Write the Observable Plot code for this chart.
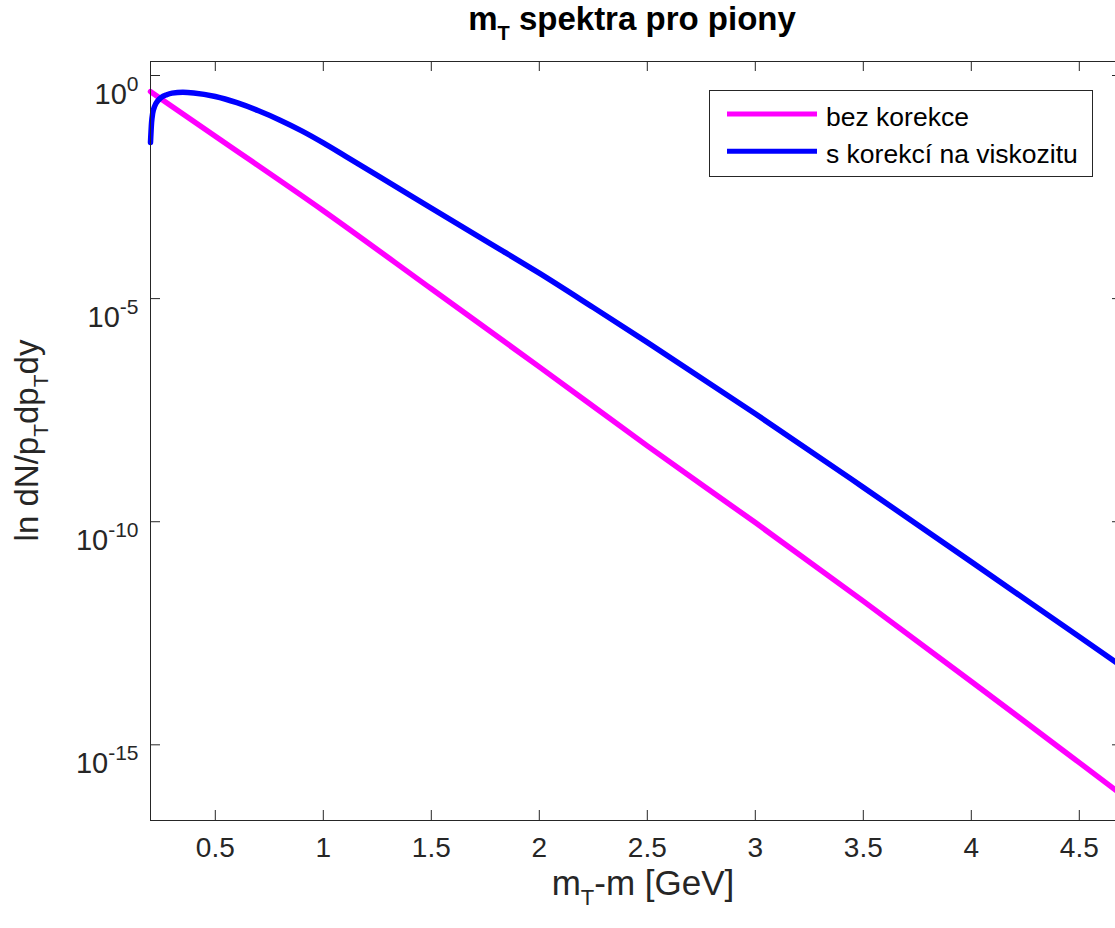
<!DOCTYPE html>
<html>
<head>
<meta charset="utf-8">
<script src="https://cdn.jsdelivr.net/npm/d3@7"></script>
<script src="https://cdn.jsdelivr.net/npm/@observablehq/plot@0.6"></script>
<style>
  html, body { margin: 0; padding: 0; background: #fff; overflow: hidden; }
  #wrap { width: 1115px; height: 928px; overflow: hidden; position: relative; }
  #wrap svg { max-width: none !important; display: block; }
</style>
</head>
<body>
<div id="wrap"></div>
<script>
// ---- data ----
const xTicks = [0.5, 1, 1.5, 2, 2.5, 3, 3.5, 4, 4.5];
const xTickLabels = ["0.5", "1", "1.5", "2", "2.5", "3", "3.5", "4", "4.5"];
const yTickExponents = [0, -5, -10, -15];

const seriesNames = ["bez korekce", "s korekcí na viskozitu"];
const seriesColors = ["#ff00ff", "#0000ff"];

// series 1: bez korekce  (log10 of dN/pT dpT dy)
const xNoCorr  = [0.2, 0.5, 1.0, 1.5, 2.0, 2.5, 3.0, 3.5, 4.0, 4.5, 4.7];
const lgNoCorr = [-0.36, -1.36, -3.03, -4.78, -6.53, -8.30, -10.02, -11.78, -13.58, -15.40, -16.13];

// series 2: s korekcí na viskozitu (log10)
const xVisc  = [0.2, 0.205, 0.21, 0.22, 0.235, 0.25, 0.275, 0.3, 0.35, 0.4, 0.5, 0.6, 0.7, 0.8, 0.9, 1.0, 1.1, 1.25, 1.5, 1.75, 2.0, 2.25, 2.5, 3.0, 3.5, 4.0, 4.5, 4.7];
const lgVisc = [-1.50, -1.05, -0.85, -0.68, -0.56, -0.49, -0.43, -0.395, -0.375, -0.39, -0.47, -0.61, -0.79, -1.00, -1.24, -1.51, -1.80, -2.24, -2.97, -3.70, -4.43, -5.20, -5.98, -7.58, -9.23, -10.90, -12.58, -13.25];

const xDomain = [0.2, 4.7];
const yDomainExp = [-16.696, 0.314];

// ---- build tables ----
const noCorr = xNoCorr.map((x, i) => ({x, y: Math.pow(10, lgNoCorr[i]), s: seriesNames[0]}));
const visc = xVisc.map((x, i) => ({x, y: Math.pow(10, lgVisc[i]), s: seriesNames[1]}));
const yTicks = yTickExponents.map(e => Math.pow(10, e));

const W = 1130, H = 928;
const mL = 150, mR = 8, mT = 61, mB = 108;
const frameW = W - mL - mR, frameH = H - mT - mB;
const axisColor = "#262626";
const font = "'Liberation Sans', Arial, Helvetica, sans-serif";

const chart = Plot.plot({
  width: W, height: H,
  marginLeft: mL, marginRight: mR, marginTop: mT, marginBottom: mB,
  style: {fontFamily: font, background: "#fff", color: axisColor, maxWidth: "none"},
  x: {domain: xDomain, axis: null},
  y: {type: "log", domain: yDomainExp.map(e => Math.pow(10, e)), axis: null},
  marks: [
    Plot.line(noCorr, {x: "x", y: "y", stroke: seriesColors[0], strokeWidth: 5.5, curve: "monotone-x"}),
    Plot.line(visc, {x: "x", y: "y", stroke: seriesColors[1], strokeWidth: 5.5, curve: "monotone-x"}),
    Plot.frame({stroke: axisColor, strokeWidth: 1}),
    Plot.tickX(xTicks, {x: d => d, insetTop: frameH - 10, stroke: axisColor}),
    Plot.tickX(xTicks, {x: d => d, insetBottom: frameH - 10, stroke: axisColor}),
    Plot.tickY(yTicks, {y: d => d, insetRight: frameW - 10, stroke: axisColor}),
    Plot.tickY(yTicks, {y: d => d, insetLeft: frameW - 10, stroke: axisColor}),
    Plot.text(xTicks, {x: d => d, frameAnchor: "bottom", text: (d, i) => xTickLabels[i],
      dy: 36, fontSize: 28, fill: axisColor, textAnchor: "middle"}),
    Plot.text(yTicks, {y: d => d, frameAnchor: "left", text: (d, i) => "§" + yTickExponents[i],
      dx: -12, fontSize: 29, fill: axisColor, textAnchor: "end"})
  ]
});

chart.style.maxWidth = "none";
document.getElementById("wrap").appendChild(chart);
const svg = d3.select(chart);

// superscript y tick labels: 10^e
svg.selectAll("text").filter(function() { return this.textContent.startsWith("§"); }).each(function() {
  const e = this.textContent.slice(1);
  const t = d3.select(this);
  t.text(null).attr("dy", 19);
  t.append("tspan").text("10");
  t.append("tspan").attr("dy", -13).attr("font-size", 21).text(e);
});

// title
const title = svg.append("text")
  .attr("x", mL + frameW / 2 - 4).attr("y", 30)
  .attr("text-anchor", "middle")
  .attr("font-family", font).attr("font-weight", "bold").attr("font-size", 33).attr("fill", "#000");
title.append("tspan").text("m");
title.append("tspan").attr("dy", 10).attr("font-size", 20).text("T");
title.append("tspan").attr("dy", -10).text(" spektra pro piony");

// x label
const xl = svg.append("text")
  .attr("x", mL + frameW / 2 + 7).attr("y", 895)
  .attr("text-anchor", "middle")
  .attr("font-family", font).attr("font-size", 35).attr("fill", axisColor);
xl.append("tspan").text("m");
xl.append("tspan").attr("dy", 10).attr("font-size", 22).text("T");
xl.append("tspan").attr("dy", -10).text("-m [GeV]");

// y label
const yl = svg.append("text")
  .attr("transform", `translate(38,${mT + frameH / 2}) rotate(-90)`)
  .attr("text-anchor", "middle")
  .attr("font-family", font).attr("font-size", 33).attr("fill", axisColor);
yl.append("tspan").text("ln dN/p");
yl.append("tspan").attr("dy", 10).attr("font-size", 21).text("T");
yl.append("tspan").attr("dy", -10).text("dp");
yl.append("tspan").attr("dy", 10).attr("font-size", 21).text("T");
yl.append("tspan").attr("dy", -10).text("dy");

// legend
const lg = svg.append("g");
lg.append("rect").attr("x", 709.5).attr("y", 90.5).attr("width", 383).attr("height", 86)
  .attr("fill", "#fff").attr("stroke", axisColor).attr("stroke-width", 1);
seriesNames.forEach((name, i) => {
  const yy = 114 + i * 37.3;
  lg.append("line").attr("x1", 727).attr("x2", 817).attr("y1", yy).attr("y2", yy)
    .attr("stroke", seriesColors[i]).attr("stroke-width", 5);
  lg.append("text").attr("x", 826).attr("y", yy + 11.7).attr("text-anchor", "start")
    .attr("font-family", font).attr("font-size", 26.5).attr("fill", "#000").text(name);
});
</script>
</body>
</html>
